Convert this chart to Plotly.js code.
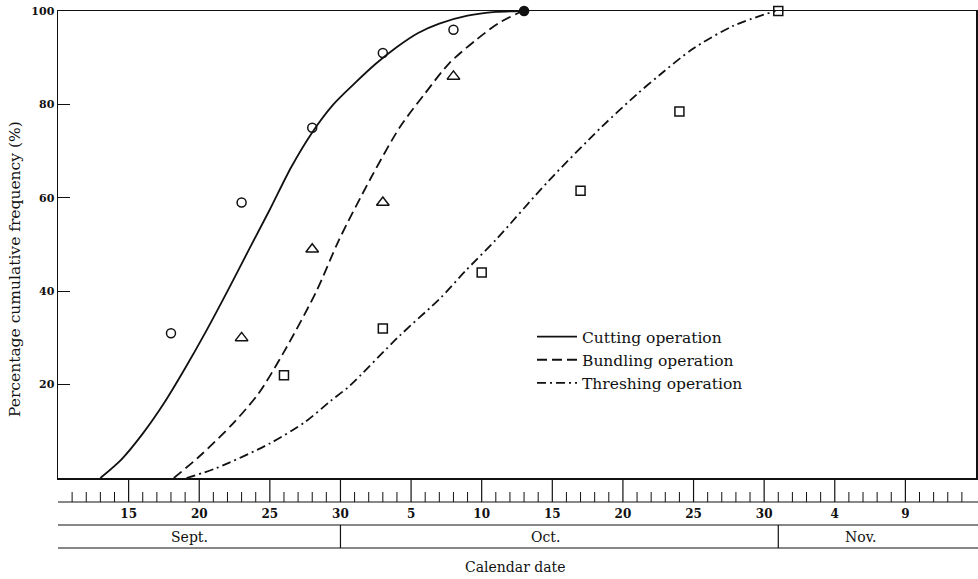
<!DOCTYPE html>
<html><head><meta charset="utf-8">
<script src="https://cdn.plot.ly/plotly-3.0.1.min.js"></script>
<style>html,body{margin:0;padding:0;background:#fff}#chart{width:978px;height:579px}</style>
</head><body><div id="chart"></div>
<script>
// x values are day numbers counted from Aug 31 (Sept 1 = 1, Oct 1 = 31, Nov 1 = 62)
const seriesNames = ['Cutting operation', 'Bundling operation', 'Threshing operation'];

// observed points
const cuttingObsDay = [18, 23, 28, 33, 38, 43];
const cuttingObsPct = [31, 59, 75, 91, 96, 100];
const bundlingObsDay = [23, 28, 33, 38];
const bundlingObsPct = [30, 49, 59, 86];
const threshingObsDay = [26, 33, 40, 47, 54, 61];
const threshingObsPct = [22, 32, 44, 61.5, 78.5, 100];

// fitted curves
const cuttingCurveDay = [13, 14.5, 16, 17.5, 19, 20.5, 22, 23.5, 25, 26.5, 28, 29.5, 31, 32.5, 34, 35.5, 37, 39, 41, 42.8];
const cuttingCurvePct = [0, 4, 9.5, 16, 23.5, 31.5, 40, 48.8, 57.5, 66.5, 74, 80, 84.5, 88.7, 92.3, 95.3, 97.3, 99, 99.8, 100];
const bundlingCurveDay = [18.2, 20, 22.4, 24.2, 26, 28.3, 29.9, 32.2, 34.2, 36, 37.7, 39.6, 41.2, 42.9];
const bundlingCurvePct = [0, 4.6, 11.7, 18.1, 27, 40, 51, 64.5, 75.1, 82.4, 88.8, 93.8, 97.4, 100];
const threshingCurveDay = [19.1, 21.2, 25, 27.5, 29.3, 30.6, 34.2, 37.1, 38.9, 41, 44.7, 48.5, 51, 52.6, 54.9, 57.8, 60.8];
const threshingCurvePct = [0, 2.1, 7.4, 12, 16.5, 19.6, 30.5, 38.6, 44.5, 51, 63.5, 75.2, 82.2, 86.3, 91.8, 96.8, 100];

// axis labels
const tickDays = [15, 20, 25, 30, 35, 40, 45, 50, 55, 60, 65, 70];
const tickLabels = ['15', '20', '25', '30', '5', '10', '15', '20', '25', '30', '4', '9'];
const minorTickDays = [];
for (let d = 11; d <= 74; d++) { if (d % 5 !== 0) minorTickDays.push(d); }
const months = ['Sept.', 'Oct.', 'Nov.'];
const monthLabelDay = [19.3, 44.5, 66.8];
const monthBoundaryDay = [30, 61];
const yTicks = [20, 40, 60, 80, 100];

const ink = '#111';
const serif = 'DejaVu Serif, Liberation Serif, serif';

const traces = [
  {x: cuttingCurveDay, y: cuttingCurvePct, name: seriesNames[0], mode: 'lines',
   line: {color: ink, width: 1.8, shape: 'spline', smoothing: 0.8}},
  {x: bundlingCurveDay, y: bundlingCurvePct, name: seriesNames[1], mode: 'lines',
   line: {color: ink, width: 1.8, shape: 'spline', smoothing: 0.8, dash: '10px,5px'}},
  {x: threshingCurveDay, y: threshingCurvePct, name: seriesNames[2], mode: 'lines',
   line: {color: ink, width: 1.8, shape: 'spline', smoothing: 0.8, dash: '9px,4px,2px,4px'}},
  {x: cuttingObsDay, y: cuttingObsPct, mode: 'markers', showlegend: false, cliponaxis: false,
   marker: {symbol: cuttingObsDay.map((d, i) => i === cuttingObsDay.length - 1 ? 'circle' : 'circle-open'),
            size: 9, color: ink, line: {color: ink, width: 1.5}}},
  {x: bundlingObsDay, y: bundlingObsPct, mode: 'markers', showlegend: false, cliponaxis: false,
   marker: {symbol: 'triangle-up-open', size: 11, color: ink, line: {color: ink, width: 1.5}}},
  {x: threshingObsDay, y: threshingObsPct, mode: 'markers', showlegend: false, cliponaxis: false,
   marker: {symbol: 'square-open', size: 9, color: ink, line: {color: ink, width: 1.5}}}
];

const H = 467; // plot height in px
const py = px => (478 - px) / H; // pixel row -> paper y

const shapes = [];
[502, 525, 548].forEach(r => shapes.push({type: 'line', xref: 'paper', yref: 'paper',
  x0: 0, x1: 1.0025, y0: py(r), y1: py(r), line: {color: ink, width: 1.2}}));
monthBoundaryDay.forEach(d => shapes.push({type: 'line', xref: 'x', yref: 'paper',
  x0: d, x1: d, y0: py(525), y1: py(548), line: {color: ink, width: 1.2}}));
tickDays.forEach(d => shapes.push({type: 'line', xref: 'x', yref: 'paper',
  x0: d, x1: d, y0: py(478), y1: py(502), line: {color: ink, width: 1.2}}));
minorTickDays.forEach(d => shapes.push({type: 'line', xref: 'x', yref: 'paper',
  x0: d, x1: d, y0: py(502), y1: py(492), line: {color: ink, width: 1}}));

const annotations = months.map((m, i) => ({x: monthLabelDay[i], y: py(537), xref: 'x', yref: 'paper',
  text: m, showarrow: false, xanchor: 'center', yanchor: 'middle', font: {family: serif, size: 14, color: ink}}));
annotations.push({x: (515 - 58) / 918, y: py(567), xref: 'paper', yref: 'paper', text: 'Calendar date',
  showarrow: false, xanchor: 'center', yanchor: 'middle', font: {family: serif, size: 14, color: ink}});
annotations.push({x: (15 - 58) / 918, y: py(269), xref: 'paper', yref: 'paper',
  text: 'Percentage cumulative frequency (%)', textangle: -90,
  showarrow: false, xanchor: 'center', yanchor: 'middle', font: {family: serif, size: 15.5, color: ink}});

const layout = {
  width: 978, height: 579,
  margin: {l: 58, r: 2, t: 11, b: 101},
  paper_bgcolor: '#fff', plot_bgcolor: '#fff',
  font: {family: serif, color: ink},
  showlegend: true,
  legend: {x: (532 - 58) / 918, y: py(320), xanchor: 'left', yanchor: 'top',
           font: {family: serif, size: 15.5, color: ink}, bgcolor: 'rgba(0,0,0,0)',
           tracegroupgap: 0, itemwidth: 40},
  xaxis: {range: [10, 75], tickmode: 'array', tickvals: tickDays, ticktext: tickLabels,
          ticks: 'outside', ticklen: 24, tickwidth: 1, tickcolor: 'rgba(0,0,0,0)',
          showline: true, linecolor: ink, linewidth: 1.5, mirror: true,
          showgrid: false, zeroline: false,
          tickfont: {family: serif, size: 12, color: ink, weight: 'bold'}},
  yaxis: {range: [0, 100], tickmode: 'array', tickvals: yTicks, ticktext: yTicks.map(String),
          ticks: 'inside', ticklen: 12, tickwidth: 1.2, tickcolor: ink,
          showline: true, linecolor: ink, linewidth: 1.5, mirror: true,
          showgrid: false, zeroline: false,
          tickfont: {family: serif, size: 11, color: ink, weight: 'bold'}},
  shapes: shapes,
  annotations: annotations
};

Plotly.newPlot('chart', traces, layout, {staticPlot: true, displayModeBar: false});
</script>
</body></html>
